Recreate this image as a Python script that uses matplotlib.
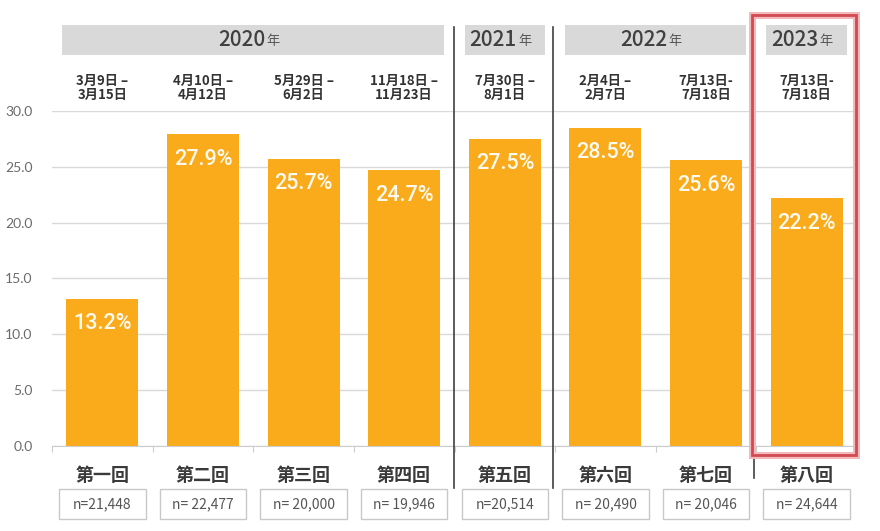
import matplotlib
matplotlib.use("Agg")
import matplotlib.pyplot as plt
from matplotlib.patches import Rectangle

plt.rcParams['font.family'] = ['Noto Sans CJK JP', 'DejaVu Sans']

# Data
rounds = ["第一回", "第二回", "第三回", "第四回", "第五回", "第六回", "第七回", "第八回"]
values = [13.2, 27.9, 25.7, 24.7, 27.5, 28.5, 25.6, 22.2]
periods = ["3月9日 –\n3月15日", "4月10日 –\n4月12日", "5月29日 –\n6月2日", "11月18日 –\n11月23日",
           "7月30日 –\n8月1日", "2月4日 –\n2月7日", "7月13日-\n7月18日", "7月13日-\n7月18日"]
sample_sizes = ["n=21,448", "n= 22,477", "n= 20,000", "n= 19,946",
                "n=20,514", "n= 20,490", "n= 20,046", "n= 24,644"]
years = ["2020", "2021", "2022", "2023"]
year_first = [0, 4, 5, 7]
year_last = [3, 4, 6, 7]

bar_color = '#F9AB1B'
grid_color = '#D9D9D9'

fig = plt.figure(figsize=(8.8, 5.31), dpi=100)
ax = fig.add_axes([0.0591, 0.1601, 0.9148, 0.631])

x = list(range(len(rounds)))
ax.bar(x, values, width=0.715, color=bar_color, zorder=2)
ax.set_xlim(-0.5, len(rounds) - 0.5)
ax.set_ylim(0, 30)
ax.set_yticks([0, 5, 10, 15, 20, 25, 30])
ax.set_yticklabels([f"{v:.1f}" for v in ax.get_yticks()], fontsize=10, color='#6b6b6b',
                   family=['Lato', 'DejaVu Sans'])
ax.yaxis.grid(True, color=grid_color, linewidth=1, zorder=0)
ax.tick_params(axis='y', length=0, pad=14)
ax.set_xticks([i - 0.5 for i in x] + [len(rounds) - 0.5])
ax.set_xticklabels([])
ax.tick_params(axis='x', length=4, color='#cccccc', direction='out')
for side in ['top', 'right', 'left']:
    ax.spines[side].set_visible(False)
ax.spines['bottom'].set_color('#cccccc')

# value labels inside bars
for i, v in enumerate(values):
    ax.annotate(f"{v}%", xy=(i, v), xytext=(0, -18), textcoords='offset points',
                ha='center', va='center', color='#fffaf0', fontsize=15.5,
                fontweight='medium', family=['Roboto', 'DejaVu Sans'], zorder=3)

tr = ax.get_xaxis_transform()

# period labels above the plot
for i, p in enumerate(periods):
    ax.text(i, 1.07, p, transform=tr, ha='center', va='center', fontsize=9.5,
            fontweight='bold', color='#333333', linespacing=1.0)

# round labels and n boxes below
for i, r in enumerate(rounds):
    ax.text(i, -0.088, r, transform=tr, ha='center', va='center', fontsize=13,
            fontweight='bold', color='#3a3a3a')
    ax.add_patch(Rectangle((i - 0.43, -0.218), 0.86, 0.09, transform=tr, fill=False,
                           edgecolor='#c8c8c8', linewidth=1, clip_on=False))
    ax.text(i, -0.173, sample_sizes[i], transform=tr, ha='center', va='center',
            fontsize=10, color='#555555')

# year header bands
for y, a, b in zip(years, year_first, year_last):
    ax.add_patch(Rectangle((a - 0.4, 1.167), (b - a) + 0.8, 0.09, transform=tr,
                           facecolor='#D9D9D9', edgecolor='none', clip_on=False))
    ax.text((a + b) / 2 + 0.12, 1.212, y, transform=tr, ha='right', va='center',
            fontsize=15, fontweight='medium', color='#404040')
    ax.text((a + b) / 2 + 0.13, 1.207, "年", transform=tr, ha='left', va='center',
            fontsize=9.5, color='#555555')

# separators between years
for sx, bottom in [(3.49, -0.125), (4.48, -0.125), (6.48, -0.095)]:
    ax.plot([sx, sx], [bottom, 1.25], transform=tr, color='#404040', linewidth=1.2,
            clip_on=False, zorder=4)

# highlight box on the latest round
ax.add_patch(Rectangle((6.46, -0.027), 1.03, 1.314, transform=tr, fill=False,
                       edgecolor='#f2b8bc', linewidth=5, clip_on=False, zorder=5))
ax.add_patch(Rectangle((6.46, -0.027), 1.03, 1.314, transform=tr, fill=False,
                       edgecolor='#d24a52', linewidth=2, clip_on=False, zorder=6))

fig.savefig("out.png", dpi=100)
